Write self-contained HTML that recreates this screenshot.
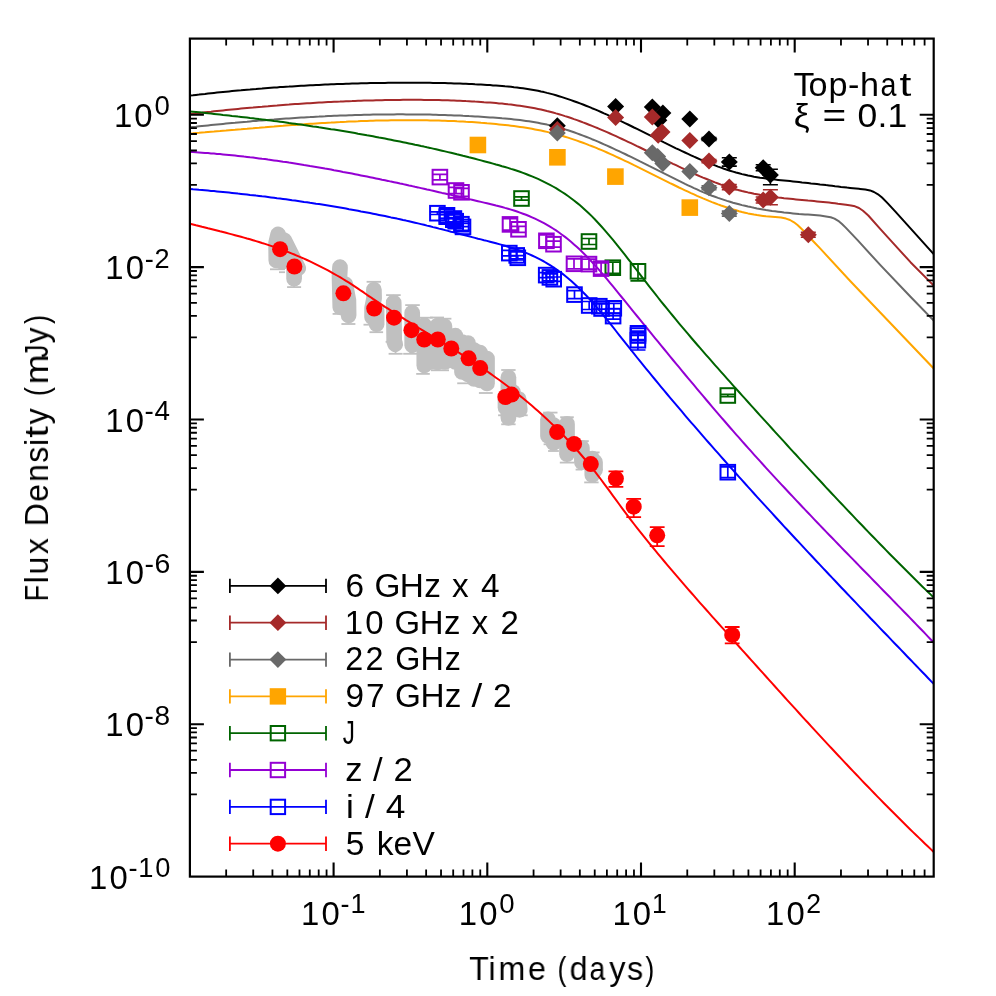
<!DOCTYPE html>
<html><head><meta charset="utf-8"><title>Light curves</title>
<style>html,body{margin:0;padding:0;background:#fff;}svg{display:block;}</style></head>
<body>
<svg width="996" height="996" viewBox="0 0 996 996" style="will-change:transform">
<rect width="996" height="996" fill="#fff"/>
<defs><clipPath id="ax"><rect x="189.9" y="38.6" width="743.8000000000001" height="838.0"/></clipPath></defs>
<g clip-path="url(#ax)">
<g stroke="#c0c0c0" fill="none" stroke-linecap="round" stroke-linejoin="round" stroke-width="15.7">
<path d="M278.1,234.4 L276.1,243.1 L276.3,260.5"/>
<path d="M284.1,240.1 L291.1,254.1 L298.2,268.2"/>
<path d="M294.1,262.0 L294.1,278.7"/>
<path d="M280.0,240.0 L282.0,262.0"/>
<path d="M340.0,267.2 L339.5,276.0 L340.3,307.3"/>
<path d="M345.3,284.3 L348.4,300.3 L348.6,315.4"/>
<path d="M373.9,289.6 L374.1,298.1 L372.1,308.1 L372.1,317.2"/>
<path d="M376.6,310.0 L376.6,324.2"/>
<path d="M393.7,302.6 L394.2,341.3 L395.2,344.3"/>
<path d="M412.2,312.7 L412.2,345.3"/>
<path d="M424.3,325.2 L424.3,365.4"/>
<path d="M431.0,330.0 L431.0,362.0"/>
<path d="M437.5,325.5 L437.5,362.5"/>
<path d="M444.4,326.2 L445.0,362.0"/>
<path d="M455.4,335.7 L455.4,362.0"/>
<path d="M462.0,342.0 L462.0,372.0"/>
<path d="M468.0,343.0 L468.0,374.5"/>
<path d="M474.0,350.0 L474.0,379.0"/>
<path d="M480.0,352.6 L480.0,380.5"/>
<path d="M487.0,358.6 L487.0,383.5"/>
<path d="M508.4,377.3 L508.4,418.0"/>
<path d="M518.6,399.0 L519.8,409.8"/>
<path d="M505.5,400.0 L505.5,407.4"/>
<path d="M513.0,392.0 L513.0,410.0"/>
<path d="M548.0,419.4 L548.0,436.0"/>
<path d="M553.5,425.0 L553.5,443.0"/>
<path d="M567.0,423.9 L567.0,454.2"/>
<path d="M581.9,447.9 L581.9,462.3"/>
<path d="M592.3,458.7 L592.3,475.0"/>
<path d="M595.0,462.0 L595.0,470.0"/>
</g>
<g stroke="#c0c0c0" fill="none" stroke-width="1.8">
<path d="M270.0,269.3 H285.0"/>
<path d="M279.0,272.2 H285.0"/>
<path d="M287.1,287.1 H301.1"/>
<path d="M332.6,313.9 H340.2"/>
<path d="M341.4,324.0 H355.4"/>
<path d="M366.6,281.8 H381.0"/>
<path d="M363.5,324.7 H370.1"/>
<path d="M369.5,332.2 H383.1"/>
<path d="M386.1,295.1 H400.7"/>
<path d="M388.6,353.8 H402.6"/>
<path d="M385.6,341.8 H388.2"/>
<path d="M405.2,305.1 H419.8"/>
<path d="M403.2,353.8 H417.2"/>
<path d="M419.2,317.7 H432.8"/>
<path d="M416.2,373.9 H429.8"/>
<path d="M430.0,317.5 H444.0"/>
<path d="M437.4,318.7 H451.4"/>
<path d="M431.0,370.3 H449.0"/>
<path d="M457.2,383.3 H468.0"/>
<path d="M478.9,393.0 H492.7"/>
<path d="M501.2,370.0 H515.6"/>
<path d="M498.1,415.3 H527.7"/>
<path d="M501.2,424.3 H515.6"/>
<path d="M543.1,412.6 H557.5"/>
<path d="M543.6,444.3 H547.2"/>
<path d="M548.1,451.0 H558.9"/>
<path d="M560.2,417.2 H573.8"/>
<path d="M559.8,462.6 H574.2"/>
<path d="M580.6,441.1 H588.8"/>
<path d="M575.6,469.6 H582.4"/>
<path d="M587.8,452.4 H599.6"/>
<path d="M584.2,482.4 H598.6"/>
<path d="M598.7,469.6 H602.7"/>
<path d="M395.6,344.0 V353.8"/>
<path d="M567.0,454.0 V462.6"/>
<path d="M591.4,475.0 V482.4"/>
<path d="M508.4,418.0 V424.3"/>
<path d="M348.4,315.0 V324.0"/>
<path d="M376.3,324.0 V332.2"/>
<path d="M294.1,278.0 V287.1"/>
<path d="M423.0,365.0 V373.9"/>
<path d="M410.2,345.0 V353.8"/>
</g>
<path d="M190.0,95.6 L193.0,95.3 L196.0,94.9 L199.0,94.6 L202.0,94.2 L205.0,93.9 L208.0,93.5 L211.0,93.2 L214.0,92.9 L217.0,92.6 L220.0,92.3 L223.0,92.0 L226.0,91.7 L229.0,91.4 L232.0,91.1 L235.0,90.8 L238.0,90.5 L241.0,90.3 L244.0,90.0 L247.0,89.7 L250.0,89.5 L253.0,89.2 L256.0,89.0 L259.0,88.7 L262.0,88.5 L265.0,88.2 L268.0,88.0 L271.0,87.8 L274.0,87.6 L277.0,87.4 L280.0,87.1 L283.0,86.9 L286.0,86.7 L289.0,86.6 L292.0,86.4 L295.0,86.2 L298.0,86.0 L301.0,85.8 L304.0,85.7 L307.0,85.5 L310.0,85.3 L313.0,85.2 L316.0,85.0 L319.0,84.9 L322.0,84.7 L325.0,84.6 L328.0,84.5 L331.0,84.3 L334.0,84.2 L337.0,84.1 L340.0,84.0 L343.0,83.9 L346.0,83.8 L349.0,83.7 L352.0,83.6 L355.0,83.5 L358.0,83.4 L361.0,83.3 L364.0,83.3 L367.0,83.2 L370.0,83.1 L373.0,83.1 L376.0,83.0 L379.0,82.9 L382.0,82.9 L385.0,82.9 L388.0,82.8 L391.0,82.8 L394.0,82.7 L397.0,82.7 L400.0,82.7 L403.0,82.7 L406.0,82.7 L409.0,82.7 L412.0,82.7 L415.0,82.7 L418.0,82.7 L421.0,82.7 L424.0,82.8 L427.0,82.8 L430.0,82.8 L433.0,82.9 L436.0,82.9 L439.0,83.0 L442.0,83.1 L445.0,83.1 L448.0,83.2 L451.0,83.3 L454.0,83.4 L457.0,83.5 L460.0,83.6 L463.0,83.7 L466.0,83.8 L469.0,84.0 L472.0,84.1 L475.0,84.3 L478.0,84.4 L481.0,84.6 L484.0,84.8 L487.0,85.0 L490.0,85.1 L493.0,85.4 L496.0,85.6 L499.0,85.8 L502.0,86.0 L505.0,86.3 L508.0,86.5 L511.0,86.8 L514.0,87.2 L517.0,87.5 L520.0,87.9 L523.0,88.3 L526.0,88.7 L529.0,89.2 L532.0,89.7 L535.0,90.2 L538.0,90.8 L541.0,91.5 L544.0,92.1 L547.0,92.9 L550.0,93.6 L553.0,94.4 L556.0,95.3 L559.0,96.2 L562.0,97.1 L565.0,98.1 L568.0,99.1 L571.0,100.1 L574.0,101.2 L577.0,102.3 L580.0,103.4 L583.0,104.5 L586.0,105.7 L589.0,106.9 L592.0,108.2 L595.0,109.4 L598.0,110.7 L601.0,112.0 L604.0,113.4 L607.0,114.7 L610.0,116.1 L613.0,117.4 L616.0,118.8 L619.0,120.2 L622.0,121.7 L625.0,123.1 L628.0,124.5 L631.0,126.0 L634.0,127.5 L637.0,128.9 L640.0,130.4 L643.0,131.9 L646.0,133.4 L649.0,134.9 L652.0,136.4 L655.0,137.9 L658.0,139.4 L661.0,140.9 L664.0,142.4 L667.0,143.8 L670.0,145.3 L673.0,146.8 L676.0,148.3 L679.0,149.7 L682.0,151.1 L685.0,152.5 L688.0,153.9 L691.0,155.3 L694.0,156.7 L697.0,158.0 L700.0,159.3 L703.0,160.6 L706.0,161.9 L709.0,163.1 L712.0,164.3 L715.0,165.4 L718.0,166.6 L721.0,167.6 L724.0,168.7 L727.0,169.7 L730.0,170.7 L733.0,171.6 L736.0,172.5 L739.0,173.3 L742.0,174.1 L745.0,174.8 L748.0,175.5 L751.0,176.1 L754.0,176.7 L757.0,177.2 L760.0,177.7 L763.0,178.1 L766.0,178.5 L769.0,178.9 L772.0,179.3 L775.0,179.6 L778.0,179.9 L781.0,180.2 L784.0,180.5 L787.0,180.8 L790.0,181.1 L793.0,181.4 L796.0,181.7 L799.0,182.0 L802.0,182.4 L805.0,182.7 L808.0,183.0 L811.0,183.4 L814.0,183.7 L817.0,184.0 L820.0,184.4 L823.0,184.7 L826.0,185.1 L829.0,185.4 L832.0,185.8 L835.0,186.2 L838.0,186.5 L841.0,186.9 L844.0,187.2 L847.0,187.6 L850.0,187.9 L853.0,188.2 L856.0,188.5 L859.0,188.8 L860.0,188.9 L865.3,189.5 L870.0,190.4 L874.0,192.0 L878.0,194.3 L882.0,197.5 L888.0,203.6 L895.4,211.7 L910.5,228.3 L933.7,254.2" fill="none" stroke="#000000" stroke-width="2.0" stroke-linejoin="round"/>
<path d="M190.0,114.1 L193.0,113.7 L196.0,113.4 L199.0,113.0 L202.0,112.7 L205.0,112.3 L208.0,112.0 L211.0,111.7 L214.0,111.3 L217.0,111.0 L220.0,110.7 L223.0,110.4 L226.0,110.1 L229.0,109.8 L232.0,109.5 L235.0,109.2 L238.0,108.9 L241.0,108.6 L244.0,108.3 L247.0,108.0 L250.0,107.7 L253.0,107.5 L256.0,107.2 L259.0,106.9 L262.0,106.7 L265.0,106.4 L268.0,106.2 L271.0,105.9 L274.0,105.7 L277.0,105.5 L280.0,105.2 L283.0,105.0 L286.0,104.8 L289.0,104.6 L292.0,104.3 L295.0,104.1 L298.0,103.9 L301.0,103.7 L304.0,103.5 L307.0,103.3 L310.0,103.2 L313.0,103.0 L316.0,102.8 L319.0,102.6 L322.0,102.5 L325.0,102.3 L328.0,102.1 L331.0,102.0 L334.0,101.8 L337.0,101.7 L340.0,101.6 L343.0,101.4 L346.0,101.3 L349.0,101.2 L352.0,101.1 L355.0,100.9 L358.0,100.8 L361.0,100.7 L364.0,100.6 L367.0,100.5 L370.0,100.5 L373.0,100.4 L376.0,100.3 L379.0,100.2 L382.0,100.2 L385.0,100.1 L388.0,100.0 L391.0,100.0 L394.0,99.9 L397.0,99.9 L400.0,99.9 L403.0,99.8 L406.0,99.8 L409.0,99.8 L412.0,99.8 L415.0,99.8 L418.0,99.8 L421.0,99.8 L424.0,99.9 L427.0,99.9 L430.0,99.9 L433.0,100.0 L436.0,100.0 L439.0,100.1 L442.0,100.2 L445.0,100.2 L448.0,100.3 L451.0,100.4 L454.0,100.5 L457.0,100.7 L460.0,100.8 L463.0,100.9 L466.0,101.1 L469.0,101.2 L472.0,101.4 L475.0,101.6 L478.0,101.7 L481.0,101.9 L484.0,102.2 L487.0,102.4 L490.0,102.6 L493.0,102.8 L496.0,103.1 L499.0,103.4 L502.0,103.6 L505.0,103.9 L508.0,104.3 L511.0,104.6 L514.0,105.0 L517.0,105.4 L520.0,105.8 L523.0,106.2 L526.0,106.7 L529.0,107.2 L532.0,107.7 L535.0,108.3 L538.0,108.9 L541.0,109.5 L544.0,110.2 L547.0,111.0 L550.0,111.7 L553.0,112.5 L556.0,113.4 L559.0,114.2 L562.0,115.1 L565.0,116.1 L568.0,117.0 L571.0,118.0 L574.0,119.1 L577.0,120.1 L580.0,121.2 L583.0,122.4 L586.0,123.5 L589.0,124.7 L592.0,125.9 L595.0,127.1 L598.0,128.3 L601.0,129.6 L604.0,130.9 L607.0,132.2 L610.0,133.5 L613.0,134.8 L616.0,136.2 L619.0,137.6 L622.0,139.0 L625.0,140.4 L628.0,141.8 L631.0,143.2 L634.0,144.6 L637.0,146.1 L640.0,147.5 L643.0,149.0 L646.0,150.5 L649.0,152.0 L652.0,153.4 L655.0,154.9 L658.0,156.4 L661.0,157.9 L664.0,159.4 L667.0,160.9 L670.0,162.3 L673.0,163.8 L676.0,165.2 L679.0,166.7 L682.0,168.1 L685.0,169.5 L688.0,170.9 L691.0,172.3 L694.0,173.6 L697.0,175.0 L700.0,176.3 L703.0,177.6 L706.0,178.8 L709.0,180.0 L712.0,181.2 L715.0,182.4 L718.0,183.5 L721.0,184.6 L724.0,185.6 L727.0,186.6 L730.0,187.6 L733.0,188.5 L736.0,189.4 L739.0,190.2 L742.0,191.0 L745.0,191.7 L748.0,192.4 L751.0,193.0 L754.0,193.7 L757.0,194.2 L760.0,194.8 L763.0,195.3 L766.0,195.8 L769.0,196.2 L772.0,196.7 L775.0,197.1 L778.0,197.5 L781.0,197.8 L784.0,198.2 L787.0,198.5 L790.0,198.8 L793.0,199.1 L796.0,199.4 L799.0,199.7 L802.0,200.0 L805.0,200.3 L808.0,200.6 L811.0,200.8 L814.0,201.1 L817.0,201.4 L820.0,201.7 L823.0,202.0 L826.0,202.3 L829.0,202.6 L832.0,202.9 L835.0,203.3 L838.0,203.7 L840.0,203.9 L846.0,204.7 L851.0,205.4 L855.0,206.3 L859.0,208.0 L863.0,210.8 L868.3,215.5 L880.4,229.1 L895.4,245.6 L910.5,262.2 L933.7,285.5" fill="none" stroke="#a52a2a" stroke-width="2.0" stroke-linejoin="round"/>
<path d="M190.0,127.3 L193.0,127.0 L196.0,126.7 L199.0,126.3 L202.0,126.0 L205.0,125.7 L208.0,125.4 L211.0,125.1 L214.0,124.8 L217.0,124.5 L220.0,124.2 L223.0,123.9 L226.0,123.6 L229.0,123.3 L232.0,123.0 L235.0,122.8 L238.0,122.5 L241.0,122.2 L244.0,121.9 L247.0,121.7 L250.0,121.4 L253.0,121.1 L256.0,120.9 L259.0,120.6 L262.0,120.4 L265.0,120.2 L268.0,119.9 L271.0,119.7 L274.0,119.5 L277.0,119.2 L280.0,119.0 L283.0,118.8 L286.0,118.6 L289.0,118.4 L292.0,118.2 L295.0,118.0 L298.0,117.8 L301.0,117.6 L304.0,117.4 L307.0,117.2 L310.0,117.1 L313.0,116.9 L316.0,116.7 L319.0,116.6 L322.0,116.4 L325.0,116.3 L328.0,116.1 L331.0,116.0 L334.0,115.8 L337.0,115.7 L340.0,115.6 L343.0,115.5 L346.0,115.4 L349.0,115.3 L352.0,115.2 L355.0,115.1 L358.0,115.0 L361.0,114.9 L364.0,114.8 L367.0,114.7 L370.0,114.7 L373.0,114.6 L376.0,114.6 L379.0,114.5 L382.0,114.5 L385.0,114.4 L388.0,114.4 L391.0,114.4 L394.0,114.4 L397.0,114.3 L400.0,114.3 L403.0,114.3 L406.0,114.4 L409.0,114.4 L412.0,114.4 L415.0,114.4 L418.0,114.4 L421.0,114.5 L424.0,114.5 L427.0,114.6 L430.0,114.6 L433.0,114.7 L436.0,114.8 L439.0,114.9 L442.0,115.0 L445.0,115.1 L448.0,115.2 L451.0,115.3 L454.0,115.4 L457.0,115.5 L460.0,115.6 L463.0,115.8 L466.0,115.9 L469.0,116.1 L472.0,116.2 L475.0,116.4 L478.0,116.6 L481.0,116.8 L484.0,117.0 L487.0,117.2 L490.0,117.4 L493.0,117.6 L496.0,117.8 L499.0,118.0 L502.0,118.3 L505.0,118.5 L508.0,118.8 L511.0,119.1 L514.0,119.4 L517.0,119.7 L520.0,120.1 L523.0,120.5 L526.0,120.9 L529.0,121.3 L532.0,121.8 L535.0,122.3 L538.0,122.8 L541.0,123.4 L544.0,124.0 L547.0,124.6 L550.0,125.3 L553.0,126.0 L556.0,126.8 L559.0,127.6 L562.0,128.5 L565.0,129.4 L568.0,130.3 L571.0,131.3 L574.0,132.3 L577.0,133.4 L580.0,134.5 L583.0,135.6 L586.0,136.7 L589.0,137.9 L592.0,139.2 L595.0,140.4 L598.0,141.7 L601.0,143.0 L604.0,144.3 L607.0,145.6 L610.0,147.0 L613.0,148.4 L616.0,149.8 L619.0,151.2 L622.0,152.6 L625.0,154.0 L628.0,155.5 L631.0,156.9 L634.0,158.4 L637.0,159.9 L640.0,161.4 L643.0,162.8 L646.0,164.3 L649.0,165.9 L652.0,167.4 L655.0,168.9 L658.0,170.4 L661.0,171.9 L664.0,173.4 L667.0,174.9 L670.0,176.4 L673.0,177.9 L676.0,179.4 L679.0,180.9 L682.0,182.4 L685.0,183.9 L688.0,185.3 L691.0,186.7 L694.0,188.1 L697.0,189.4 L700.0,190.8 L703.0,192.1 L706.0,193.3 L709.0,194.5 L712.0,195.7 L715.0,196.8 L718.0,197.9 L721.0,198.9 L724.0,199.9 L727.0,200.9 L730.0,201.8 L733.0,202.7 L736.0,203.5 L739.0,204.3 L742.0,205.1 L745.0,205.8 L748.0,206.5 L751.0,207.1 L754.0,207.8 L757.0,208.4 L760.0,208.9 L763.0,209.5 L766.0,210.0 L769.0,210.4 L772.0,210.9 L775.0,211.3 L778.0,211.7 L781.0,212.1 L784.0,212.5 L787.0,212.8 L790.0,213.1 L793.0,213.4 L796.0,213.7 L799.0,214.0 L802.0,214.2 L805.0,214.4 L808.0,214.6 L811.0,214.8 L814.0,215.0 L817.0,215.2 L820.0,215.4 L820.1,215.4 L826.0,216.4 L830.7,217.2 L834.5,218.6 L838.2,220.8 L842.0,224.0 L845.7,227.6 L857.8,240.4 L880.4,265.2 L910.5,296.8 L933.7,320.5" fill="none" stroke="#696969" stroke-width="2.0" stroke-linejoin="round"/>
<path d="M190.0,133.5 L193.0,133.3 L196.0,133.0 L199.0,132.8 L202.0,132.5 L205.0,132.3 L208.0,132.0 L211.0,131.7 L214.0,131.5 L217.0,131.2 L220.0,131.0 L223.0,130.7 L226.0,130.5 L229.0,130.2 L232.0,129.9 L235.0,129.7 L238.0,129.4 L241.0,129.2 L244.0,128.9 L247.0,128.7 L250.0,128.4 L253.0,128.2 L256.0,127.9 L259.0,127.7 L262.0,127.4 L265.0,127.2 L268.0,126.9 L271.0,126.7 L274.0,126.5 L277.0,126.2 L280.0,126.0 L283.0,125.8 L286.0,125.5 L289.0,125.3 L292.0,125.1 L295.0,124.9 L298.0,124.7 L301.0,124.5 L304.0,124.3 L307.0,124.0 L310.0,123.8 L313.0,123.7 L316.0,123.5 L319.0,123.3 L322.0,123.1 L325.0,122.9 L328.0,122.7 L331.0,122.6 L334.0,122.4 L337.0,122.2 L340.0,122.1 L343.0,121.9 L346.0,121.8 L349.0,121.6 L352.0,121.5 L355.0,121.4 L358.0,121.3 L361.0,121.1 L364.0,121.0 L367.0,120.9 L370.0,120.8 L373.0,120.7 L376.0,120.6 L379.0,120.6 L382.0,120.5 L385.0,120.4 L388.0,120.4 L391.0,120.3 L394.0,120.3 L397.0,120.2 L400.0,120.2 L403.0,120.2 L406.0,120.2 L409.0,120.2 L412.0,120.2 L415.0,120.2 L418.0,120.2 L421.0,120.2 L424.0,120.3 L427.0,120.3 L430.0,120.4 L433.0,120.4 L436.0,120.5 L439.0,120.6 L442.0,120.7 L445.0,120.8 L448.0,120.9 L451.0,121.0 L454.0,121.1 L457.0,121.3 L460.0,121.4 L463.0,121.6 L466.0,121.8 L469.0,121.9 L472.0,122.1 L475.0,122.3 L478.0,122.5 L481.0,122.8 L484.0,123.0 L487.0,123.3 L490.0,123.5 L493.0,123.8 L496.0,124.1 L499.0,124.4 L502.0,124.7 L505.0,125.0 L508.0,125.3 L511.0,125.7 L514.0,126.1 L517.0,126.5 L520.0,126.9 L523.0,127.3 L526.0,127.8 L529.0,128.3 L532.0,128.8 L535.0,129.4 L538.0,130.0 L541.0,130.6 L544.0,131.2 L547.0,131.9 L550.0,132.6 L553.0,133.3 L556.0,134.1 L559.0,135.0 L562.0,135.8 L565.0,136.7 L568.0,137.6 L571.0,138.6 L574.0,139.6 L577.0,140.6 L580.0,141.7 L583.0,142.8 L586.0,143.9 L589.0,145.1 L592.0,146.2 L595.0,147.4 L598.0,148.7 L601.0,149.9 L604.0,151.2 L607.0,152.5 L610.0,153.8 L613.0,155.2 L616.0,156.6 L619.0,158.0 L622.0,159.4 L625.0,160.8 L628.0,162.2 L631.0,163.7 L634.0,165.2 L637.0,166.6 L640.0,168.1 L643.0,169.6 L646.0,171.1 L649.0,172.6 L652.0,174.1 L655.0,175.6 L658.0,177.1 L661.0,178.6 L664.0,180.1 L667.0,181.6 L670.0,183.1 L673.0,184.5 L676.0,186.0 L679.0,187.5 L682.0,188.9 L685.0,190.3 L688.0,191.7 L691.0,193.1 L694.0,194.4 L697.0,195.8 L700.0,197.1 L703.0,198.4 L706.0,199.6 L709.0,200.9 L712.0,202.1 L715.0,203.2 L718.0,204.4 L721.0,205.5 L724.0,206.5 L727.0,207.5 L730.0,208.5 L733.0,209.4 L736.0,210.3 L739.0,211.2 L742.0,212.0 L745.0,212.7 L748.0,213.4 L751.0,214.0 L754.0,214.6 L757.0,215.1 L760.0,215.5 L763.0,215.9 L766.0,216.3 L769.0,216.5 L772.0,216.7 L775.0,216.9 L775.3,216.9 L781.0,217.6 L786.0,218.6 L790.0,220.0 L794.0,222.3 L797.5,225.0 L800.4,227.8 L805.0,232.3 L813.0,241.0 L820.1,248.4 L850.2,281.0 L868.3,300.0 L933.7,368.5" fill="none" stroke="#ffa500" stroke-width="2.0" stroke-linejoin="round"/>
<path d="M190.0,111.4 L193.0,111.7 L196.0,112.0 L199.0,112.3 L202.0,112.6 L205.0,112.9 L208.0,113.3 L211.0,113.6 L214.0,113.9 L217.0,114.2 L220.0,114.5 L223.0,114.9 L226.0,115.2 L229.0,115.5 L232.0,115.9 L235.0,116.2 L238.0,116.6 L241.0,116.9 L244.0,117.2 L247.0,117.6 L250.0,118.0 L253.0,118.3 L256.0,118.7 L259.0,119.1 L262.0,119.4 L265.0,119.8 L268.0,120.2 L271.0,120.6 L274.0,121.0 L277.0,121.3 L280.0,121.7 L283.0,122.1 L286.0,122.5 L289.0,123.0 L292.0,123.4 L295.0,123.8 L298.0,124.2 L301.0,124.6 L304.0,125.1 L307.0,125.5 L310.0,125.9 L313.0,126.4 L316.0,126.8 L319.0,127.3 L322.0,127.7 L325.0,128.2 L328.0,128.7 L331.0,129.2 L334.0,129.6 L337.0,130.1 L340.0,130.6 L343.0,131.1 L346.0,131.6 L349.0,132.1 L352.0,132.6 L355.0,133.1 L358.0,133.7 L361.0,134.2 L364.0,134.7 L367.0,135.3 L370.0,135.8 L373.0,136.3 L376.0,136.9 L379.0,137.5 L382.0,138.0 L385.0,138.6 L388.0,139.2 L391.0,139.8 L394.0,140.4 L397.0,141.0 L400.0,141.6 L403.0,142.2 L406.0,142.8 L409.0,143.4 L412.0,144.0 L415.0,144.7 L418.0,145.3 L421.0,146.0 L424.0,146.6 L427.0,147.3 L430.0,147.9 L433.0,148.6 L436.0,149.3 L439.0,150.0 L442.0,150.7 L445.0,151.4 L448.0,152.1 L451.0,152.8 L454.0,153.5 L457.0,154.3 L460.0,155.0 L463.0,155.8 L466.0,156.5 L469.0,157.3 L472.0,158.0 L475.0,158.8 L478.0,159.6 L481.0,160.4 L484.0,161.2 L487.0,162.0 L490.0,162.8 L493.0,163.6 L496.0,164.5 L499.0,165.3 L502.0,166.2 L505.0,167.0 L508.0,167.9 L511.0,168.9 L514.0,169.8 L517.0,170.8 L520.0,171.8 L523.0,172.9 L526.0,174.0 L529.0,175.2 L532.0,176.4 L535.0,177.6 L538.0,178.9 L541.0,180.3 L544.0,181.8 L547.0,183.3 L550.0,184.8 L553.0,186.5 L556.0,188.2 L559.0,190.1 L562.0,192.0 L565.0,193.9 L568.0,196.0 L571.0,198.2 L574.0,200.5 L577.0,202.9 L580.0,205.3 L583.0,207.9 L586.0,210.7 L589.0,213.5 L592.0,216.4 L595.0,219.5 L598.0,222.7 L601.0,226.0 L604.0,229.3 L607.0,232.8 L610.0,236.3 L613.0,239.9 L616.0,243.6 L619.0,247.3 L622.0,251.1 L625.0,254.9 L628.0,258.8 L631.0,262.7 L634.0,266.6 L637.0,270.5 L640.0,274.4 L643.0,278.3 L646.0,282.2 L649.0,286.1 L652.0,289.9 L655.0,293.7 L658.0,297.5 L661.0,301.3 L664.0,305.0 L667.0,308.7 L670.0,312.4 L673.0,316.0 L676.0,319.7 L679.0,323.3 L682.0,326.8 L685.0,330.4 L688.0,333.9 L691.0,337.5 L694.0,341.0 L697.0,344.5 L700.0,347.9 L703.0,351.4 L706.0,354.8 L709.0,358.2 L712.0,361.7 L715.0,365.1 L718.0,368.4 L721.0,371.8 L724.0,375.2 L727.0,378.6 L730.0,381.9 L733.0,385.3 L736.0,388.6 L739.0,392.0 L742.0,395.3 L745.0,398.6 L748.0,402.0 L751.0,405.3 L754.0,408.6 L757.0,412.0 L760.0,415.3 L763.0,418.6 L766.0,421.9 L769.0,425.2 L772.0,428.5 L775.0,431.8 L778.0,435.1 L781.0,438.4 L784.0,441.7 L787.0,445.0 L790.0,448.3 L793.0,451.6 L796.0,454.8 L799.0,458.1 L802.0,461.4 L805.0,464.6 L808.0,467.9 L811.0,471.1 L814.0,474.4 L817.0,477.6 L820.0,480.8 L823.0,484.0 L826.0,487.3 L829.0,490.5 L832.0,493.7 L835.0,496.9 L838.0,500.1 L841.0,503.2 L844.0,506.4 L847.0,509.6 L850.0,512.8 L853.0,515.9 L856.0,519.1 L859.0,522.2 L862.0,525.3 L865.0,528.5 L868.0,531.6 L871.0,534.7 L874.0,537.8 L877.0,540.9 L880.0,544.0 L883.0,547.0 L886.0,550.1 L889.0,553.2 L892.0,556.2 L895.0,559.2 L898.0,562.3 L901.0,565.3 L904.0,568.3 L907.0,571.3 L910.0,574.3 L913.0,577.3 L916.0,580.2 L919.0,583.2 L922.0,586.2 L925.0,589.1 L928.0,592.0 L931.0,594.9 L933.7,597.6" fill="none" stroke="#006400" stroke-width="2.0" stroke-linejoin="round"/>
<path d="M190.0,151.9 L193.0,152.1 L196.0,152.3 L199.0,152.5 L202.0,152.7 L205.0,152.9 L208.0,153.1 L211.0,153.4 L214.0,153.6 L217.0,153.9 L220.0,154.1 L223.0,154.4 L226.0,154.7 L229.0,155.0 L232.0,155.3 L235.0,155.6 L238.0,155.9 L241.0,156.2 L244.0,156.6 L247.0,156.9 L250.0,157.3 L253.0,157.6 L256.0,158.0 L259.0,158.4 L262.0,158.8 L265.0,159.1 L268.0,159.6 L271.0,160.0 L274.0,160.4 L277.0,160.8 L280.0,161.2 L283.0,161.7 L286.0,162.1 L289.0,162.6 L292.0,163.0 L295.0,163.5 L298.0,164.0 L301.0,164.5 L304.0,165.0 L307.0,165.4 L310.0,166.0 L313.0,166.5 L316.0,167.0 L319.0,167.5 L322.0,168.0 L325.0,168.6 L328.0,169.1 L331.0,169.6 L334.0,170.2 L337.0,170.7 L340.0,171.3 L343.0,171.9 L346.0,172.4 L349.0,173.0 L352.0,173.6 L355.0,174.2 L358.0,174.8 L361.0,175.4 L364.0,176.0 L367.0,176.6 L370.0,177.2 L373.0,177.8 L376.0,178.4 L379.0,179.0 L382.0,179.7 L385.0,180.3 L388.0,180.9 L391.0,181.6 L394.0,182.2 L397.0,182.8 L400.0,183.5 L403.0,184.1 L406.0,184.8 L409.0,185.5 L412.0,186.1 L415.0,186.8 L418.0,187.4 L421.0,188.1 L424.0,188.8 L427.0,189.5 L430.0,190.1 L433.0,190.8 L436.0,191.5 L439.0,192.2 L442.0,192.9 L445.0,193.5 L448.0,194.2 L451.0,194.9 L454.0,195.6 L457.0,196.3 L460.0,197.0 L463.0,197.7 L466.0,198.4 L469.0,199.1 L472.0,199.8 L475.0,200.5 L478.0,201.2 L481.0,201.9 L484.0,202.6 L487.0,203.3 L490.0,204.0 L493.0,204.7 L496.0,205.5 L499.0,206.2 L502.0,207.0 L505.0,207.9 L508.0,208.7 L511.0,209.6 L514.0,210.5 L517.0,211.5 L520.0,212.6 L523.0,213.7 L526.0,214.8 L529.0,216.0 L532.0,217.3 L535.0,218.7 L538.0,220.1 L541.0,221.6 L544.0,223.2 L547.0,224.9 L550.0,226.6 L553.0,228.5 L556.0,230.4 L559.0,232.5 L562.0,234.7 L565.0,236.9 L568.0,239.3 L571.0,241.8 L574.0,244.4 L577.0,247.0 L580.0,249.8 L583.0,252.7 L586.0,255.7 L589.0,258.8 L592.0,262.0 L595.0,265.3 L598.0,268.6 L601.0,272.1 L604.0,275.6 L607.0,279.2 L610.0,282.8 L613.0,286.4 L616.0,290.1 L619.0,293.8 L622.0,297.5 L625.0,301.2 L628.0,304.9 L631.0,308.6 L634.0,312.3 L637.0,316.0 L640.0,319.7 L643.0,323.3 L646.0,327.0 L649.0,330.7 L652.0,334.4 L655.0,338.1 L658.0,341.7 L661.0,345.4 L664.0,349.0 L667.0,352.7 L670.0,356.3 L673.0,360.0 L676.0,363.6 L679.0,367.2 L682.0,370.9 L685.0,374.5 L688.0,378.1 L691.0,381.7 L694.0,385.2 L697.0,388.8 L700.0,392.4 L703.0,395.9 L706.0,399.5 L709.0,403.0 L712.0,406.6 L715.0,410.1 L718.0,413.6 L721.0,417.1 L724.0,420.5 L727.0,424.0 L730.0,427.5 L733.0,430.9 L736.0,434.3 L739.0,437.7 L742.0,441.1 L745.0,444.5 L748.0,447.9 L751.0,451.2 L754.0,454.6 L757.0,457.9 L760.0,461.2 L763.0,464.5 L766.0,467.8 L769.0,471.1 L772.0,474.4 L775.0,477.6 L778.0,480.9 L781.0,484.1 L784.0,487.3 L787.0,490.5 L790.0,493.7 L793.0,496.9 L796.0,500.1 L799.0,503.3 L802.0,506.5 L805.0,509.6 L808.0,512.8 L811.0,515.9 L814.0,519.1 L817.0,522.2 L820.0,525.4 L823.0,528.5 L826.0,531.6 L829.0,534.7 L832.0,537.8 L835.0,540.9 L838.0,544.0 L841.0,547.1 L844.0,550.2 L847.0,553.3 L850.0,556.4 L853.0,559.4 L856.0,562.5 L859.0,565.6 L862.0,568.7 L865.0,571.7 L868.0,574.8 L871.0,577.9 L874.0,581.0 L877.0,584.0 L880.0,587.1 L883.0,590.2 L886.0,593.3 L889.0,596.3 L892.0,599.4 L895.0,602.5 L898.0,605.6 L901.0,608.6 L904.0,611.7 L907.0,614.8 L910.0,617.9 L913.0,621.0 L916.0,624.1 L919.0,627.2 L922.0,630.3 L925.0,633.4 L928.0,636.6 L931.0,639.7 L933.7,642.5" fill="none" stroke="#9400d3" stroke-width="2.0" stroke-linejoin="round"/>
<path d="M190.0,189.0 L193.0,189.3 L196.0,189.5 L199.0,189.8 L202.0,190.0 L205.0,190.3 L208.0,190.6 L211.0,190.9 L214.0,191.1 L217.0,191.4 L220.0,191.7 L223.0,192.0 L226.0,192.3 L229.0,192.6 L232.0,192.9 L235.0,193.2 L238.0,193.6 L241.0,193.9 L244.0,194.2 L247.0,194.5 L250.0,194.9 L253.0,195.2 L256.0,195.6 L259.0,195.9 L262.0,196.3 L265.0,196.6 L268.0,197.0 L271.0,197.4 L274.0,197.8 L277.0,198.2 L280.0,198.5 L283.0,198.9 L286.0,199.3 L289.0,199.7 L292.0,200.2 L295.0,200.6 L298.0,201.0 L301.0,201.4 L304.0,201.9 L307.0,202.3 L310.0,202.8 L313.0,203.2 L316.0,203.7 L319.0,204.1 L322.0,204.6 L325.0,205.1 L328.0,205.6 L331.0,206.1 L334.0,206.6 L337.0,207.1 L340.0,207.6 L343.0,208.1 L346.0,208.6 L349.0,209.2 L352.0,209.7 L355.0,210.2 L358.0,210.8 L361.0,211.4 L364.0,211.9 L367.0,212.5 L370.0,213.1 L373.0,213.7 L376.0,214.3 L379.0,214.9 L382.0,215.5 L385.0,216.1 L388.0,216.7 L391.0,217.4 L394.0,218.0 L397.0,218.6 L400.0,219.3 L403.0,220.0 L406.0,220.6 L409.0,221.3 L412.0,222.0 L415.0,222.7 L418.0,223.4 L421.0,224.1 L424.0,224.8 L427.0,225.6 L430.0,226.3 L433.0,227.1 L436.0,227.8 L439.0,228.6 L442.0,229.3 L445.0,230.1 L448.0,230.9 L451.0,231.7 L454.0,232.4 L457.0,233.2 L460.0,234.0 L463.0,234.8 L466.0,235.6 L469.0,236.3 L472.0,237.1 L475.0,237.9 L478.0,238.7 L481.0,239.4 L484.0,240.2 L487.0,240.9 L490.0,241.7 L493.0,242.5 L496.0,243.3 L499.0,244.1 L502.0,244.9 L505.0,245.8 L508.0,246.7 L511.0,247.6 L514.0,248.6 L517.0,249.6 L520.0,250.6 L523.0,251.8 L526.0,252.9 L529.0,254.2 L532.0,255.5 L535.0,256.9 L538.0,258.4 L541.0,259.9 L544.0,261.5 L547.0,263.3 L550.0,265.1 L553.0,267.0 L556.0,269.0 L559.0,271.2 L562.0,273.4 L565.0,275.8 L568.0,278.3 L571.0,280.8 L574.0,283.5 L577.0,286.3 L580.0,289.2 L583.0,292.2 L586.0,295.3 L589.0,298.5 L592.0,301.9 L595.0,305.3 L598.0,308.8 L601.0,312.4 L604.0,316.0 L607.0,319.7 L610.0,323.4 L613.0,327.2 L616.0,331.0 L619.0,334.8 L622.0,338.6 L625.0,342.4 L628.0,346.2 L631.0,350.0 L634.0,353.7 L637.0,357.5 L640.0,361.2 L643.0,364.9 L646.0,368.6 L649.0,372.2 L652.0,375.9 L655.0,379.5 L658.0,383.2 L661.0,386.8 L664.0,390.4 L667.0,394.0 L670.0,397.6 L673.0,401.1 L676.0,404.7 L679.0,408.2 L682.0,411.7 L685.0,415.3 L688.0,418.8 L691.0,422.3 L694.0,425.7 L697.0,429.2 L700.0,432.7 L703.0,436.1 L706.0,439.6 L709.0,443.0 L712.0,446.4 L715.0,449.8 L718.0,453.2 L721.0,456.6 L724.0,460.0 L727.0,463.4 L730.0,466.8 L733.0,470.1 L736.0,473.5 L739.0,476.8 L742.0,480.2 L745.0,483.5 L748.0,486.8 L751.0,490.1 L754.0,493.5 L757.0,496.8 L760.0,500.1 L763.0,503.4 L766.0,506.6 L769.0,509.9 L772.0,513.2 L775.0,516.5 L778.0,519.7 L781.0,523.0 L784.0,526.3 L787.0,529.5 L790.0,532.7 L793.0,536.0 L796.0,539.2 L799.0,542.4 L802.0,545.7 L805.0,548.9 L808.0,552.1 L811.0,555.3 L814.0,558.5 L817.0,561.7 L820.0,564.9 L823.0,568.1 L826.0,571.3 L829.0,574.5 L832.0,577.6 L835.0,580.8 L838.0,584.0 L841.0,587.2 L844.0,590.3 L847.0,593.5 L850.0,596.6 L853.0,599.8 L856.0,602.9 L859.0,606.1 L862.0,609.2 L865.0,612.4 L868.0,615.5 L871.0,618.7 L874.0,621.8 L877.0,624.9 L880.0,628.1 L883.0,631.2 L886.0,634.3 L889.0,637.4 L892.0,640.6 L895.0,643.7 L898.0,646.8 L901.0,649.9 L904.0,653.0 L907.0,656.2 L910.0,659.3 L913.0,662.4 L916.0,665.5 L919.0,668.6 L922.0,671.7 L925.0,674.8 L928.0,678.0 L931.0,681.1 L933.7,683.9" fill="none" stroke="#0000ff" stroke-width="2.0" stroke-linejoin="round"/>
<path d="M190.0,223.8 L193.0,224.5 L196.0,225.3 L199.0,226.0 L202.0,226.8 L205.0,227.5 L208.0,228.3 L211.0,229.0 L214.0,229.7 L217.0,230.5 L220.0,231.3 L223.0,232.0 L226.0,232.8 L229.0,233.6 L232.0,234.4 L235.0,235.2 L238.0,236.0 L241.0,236.8 L244.0,237.6 L247.0,238.5 L250.0,239.3 L253.0,240.2 L256.0,241.1 L259.0,242.0 L262.0,243.0 L265.0,243.9 L268.0,244.9 L271.0,245.9 L274.0,246.9 L277.0,248.0 L280.0,249.1 L283.0,250.2 L286.0,251.3 L289.0,252.4 L292.0,253.6 L295.0,254.8 L298.0,256.1 L301.0,257.4 L304.0,258.7 L307.0,260.0 L310.0,261.4 L313.0,262.8 L316.0,264.3 L319.0,265.8 L322.0,267.3 L325.0,268.8 L328.0,270.4 L331.0,272.1 L334.0,273.8 L337.0,275.5 L340.0,277.2 L343.0,279.0 L346.0,280.9 L349.0,282.7 L352.0,284.7 L355.0,286.6 L358.0,288.6 L361.0,290.7 L364.0,292.7 L367.0,294.8 L370.0,296.8 L373.0,298.9 L376.0,300.9 L379.0,302.9 L382.0,304.8 L385.0,306.8 L388.0,308.7 L391.0,310.6 L394.0,312.6 L397.0,314.5 L400.0,316.3 L403.0,318.2 L406.0,320.1 L409.0,321.9 L412.0,323.8 L415.0,325.6 L418.0,327.5 L421.0,329.3 L424.0,331.1 L427.0,333.0 L430.0,334.8 L433.0,336.6 L436.0,338.5 L439.0,340.3 L442.0,342.2 L445.0,344.0 L448.0,345.9 L451.0,347.8 L454.0,349.6 L457.0,351.5 L460.0,353.4 L463.0,355.4 L466.0,357.3 L469.0,359.2 L472.0,361.2 L475.0,363.2 L478.0,365.2 L481.0,367.2 L484.0,369.2 L487.0,371.3 L490.0,373.4 L493.0,375.5 L496.0,377.7 L499.0,379.8 L502.0,382.0 L505.0,384.3 L508.0,386.5 L511.0,388.8 L514.0,391.1 L517.0,393.5 L520.0,395.9 L523.0,398.3 L526.0,400.8 L529.0,403.3 L532.0,405.8 L535.0,408.4 L538.0,411.1 L541.0,413.8 L544.0,416.5 L547.0,419.2 L550.0,422.1 L553.0,424.9 L556.0,427.9 L559.0,430.9 L562.0,433.9 L565.0,437.0 L568.0,440.2 L571.0,443.4 L574.0,446.7 L577.0,450.0 L580.0,453.5 L583.0,457.0 L586.0,460.5 L589.0,464.2 L592.0,467.9 L595.0,471.7 L598.0,475.6 L601.0,479.5 L604.0,483.6 L607.0,487.6 L610.0,491.7 L613.0,495.8 L616.0,499.9 L619.0,504.0 L622.0,508.1 L625.0,512.1 L628.0,516.1 L631.0,520.1 L634.0,524.0 L637.0,527.8 L640.0,531.6 L643.0,535.4 L646.0,539.1 L649.0,542.8 L652.0,546.5 L655.0,550.2 L658.0,553.8 L661.0,557.4 L664.0,561.0 L667.0,564.6 L670.0,568.1 L673.0,571.7 L676.0,575.2 L679.0,578.7 L682.0,582.2 L685.0,585.6 L688.0,589.1 L691.0,592.5 L694.0,595.9 L697.0,599.4 L700.0,602.8 L703.0,606.2 L706.0,609.5 L709.0,612.9 L712.0,616.3 L715.0,619.7 L718.0,623.0 L721.0,626.4 L724.0,629.7 L727.0,633.1 L730.0,636.4 L733.0,639.8 L736.0,643.1 L739.0,646.5 L742.0,649.8 L745.0,653.2 L748.0,656.5 L751.0,659.9 L754.0,663.2 L757.0,666.5 L760.0,669.9 L763.0,673.2 L766.0,676.5 L769.0,679.9 L772.0,683.2 L775.0,686.5 L778.0,689.9 L781.0,693.2 L784.0,696.5 L787.0,699.8 L790.0,703.1 L793.0,706.4 L796.0,709.7 L799.0,713.0 L802.0,716.3 L805.0,719.6 L808.0,722.8 L811.0,726.1 L814.0,729.4 L817.0,732.6 L820.0,735.9 L823.0,739.1 L826.0,742.4 L829.0,745.6 L832.0,748.8 L835.0,752.0 L838.0,755.2 L841.0,758.4 L844.0,761.6 L847.0,764.8 L850.0,768.0 L853.0,771.1 L856.0,774.3 L859.0,777.4 L862.0,780.6 L865.0,783.7 L868.0,786.8 L871.0,789.9 L874.0,793.0 L877.0,796.1 L880.0,799.1 L883.0,802.2 L886.0,805.2 L889.0,808.3 L892.0,811.3 L895.0,814.3 L898.0,817.3 L901.0,820.3 L904.0,823.3 L907.0,826.2 L910.0,829.2 L913.0,832.1 L916.0,835.0 L919.0,837.9 L922.0,840.8 L925.0,843.7 L928.0,846.5 L931.0,849.4 L933.7,851.9" fill="none" stroke="#ff0000" stroke-width="2.0" stroke-linejoin="round"/>
<g fill="#000000" stroke="#000000" stroke-width="1.6">
<path d="M557.3,117.3 L565.8,125.8 L557.3,134.3 L548.8,125.8 Z" stroke="none"/>
<path d="M615.6,97.9 L624.1,106.4 L615.6,114.9 L607.1,106.4 Z" stroke="none"/>
<path d="M652.3,98.5 L660.8,107.0 L652.3,115.5 L643.8,107.0 Z" stroke="none"/>
<path d="M662.9,104.4 L671.4,112.9 L662.9,121.4 L654.4,112.9 Z" stroke="none"/>
<path d="M658.8,111.7 L667.3,120.2 L658.8,128.7 L650.3,120.2 Z" stroke="none"/>
<path d="M689.8,110.4 L698.3,118.9 L689.8,127.4 L681.3,118.9 Z" stroke="none"/>
<path d="M709.0,137.5 V140.5 M701.5,137.5 H716.5 M701.5,140.5 H716.5" fill="none"/>
<path d="M709.0,130.5 L717.5,139.0 L709.0,147.5 L700.5,139.0 Z" stroke="none"/>
<path d="M729.3,157.7 V166.1 M721.8,157.7 H736.8 M721.8,166.1 H736.8" fill="none"/>
<path d="M729.3,153.4 L737.8,161.9 L729.3,170.4 L720.8,161.9 Z" stroke="none"/>
<path d="M763.2,164.7 V170.7 M755.7,164.7 H770.7 M755.7,170.7 H770.7" fill="none"/>
<path d="M763.2,159.2 L771.7,167.7 L763.2,176.2 L754.7,167.7 Z" stroke="none"/>
<path d="M770.4,169.3 V184.8 M762.9,169.3 H777.9 M762.9,184.8 H777.9" fill="none"/>
<path d="M770.4,166.6 L778.9,175.1 L770.4,183.6 L761.9,175.1 Z" stroke="none"/>
</g>
<g fill="#a52a2a" stroke="#a52a2a" stroke-width="1.6">
<path d="M557.3,121.1 L565.8,129.6 L557.3,138.1 L548.8,129.6 Z" stroke="none"/>
<path d="M615.6,108.9 L624.1,117.4 L615.6,125.9 L607.1,117.4 Z" stroke="none"/>
<path d="M652.3,108.5 L660.8,117.0 L652.3,125.5 L643.8,117.0 Z" stroke="none"/>
<path d="M658.2,126.7 L666.7,135.2 L658.2,143.7 L649.7,135.2 Z" stroke="none"/>
<path d="M662.0,123.6 L670.5,132.1 L662.0,140.6 L653.5,132.1 Z" stroke="none"/>
<path d="M689.8,132.0 L698.3,140.5 L689.8,149.0 L681.3,140.5 Z" stroke="none"/>
<path d="M709.0,159.6 V162.6 M701.5,159.6 H716.5 M701.5,162.6 H716.5" fill="none"/>
<path d="M709.0,152.6 L717.5,161.1 L709.0,169.6 L700.5,161.1 Z" stroke="none"/>
<path d="M729.3,184.6 V189.6 M721.8,184.6 H736.8 M721.8,189.6 H736.8" fill="none"/>
<path d="M729.3,178.6 L737.8,187.1 L729.3,195.6 L720.8,187.1 Z" stroke="none"/>
<path d="M763.2,197.0 V203.0 M755.7,197.0 H770.7 M755.7,203.0 H770.7" fill="none"/>
<path d="M763.2,191.5 L771.7,200.0 L763.2,208.5 L754.7,200.0 Z" stroke="none"/>
<path d="M770.4,189.8 V204.8 M762.9,189.8 H777.9 M762.9,204.8 H777.9" fill="none"/>
<path d="M770.4,188.8 L778.9,197.3 L770.4,205.8 L761.9,197.3 Z" stroke="none"/>
<path d="M808.3,232.2 V237.2 M800.8,232.2 H815.8 M800.8,237.2 H815.8" fill="none"/>
<path d="M808.3,226.2 L816.8,234.7 L808.3,243.2 L799.8,234.7 Z" stroke="none"/>
</g>
<g fill="#696969" stroke="#696969" stroke-width="1.6">
<path d="M557.3,124.5 L565.8,133.0 L557.3,141.5 L548.8,133.0 Z" stroke="none"/>
<path d="M652.3,144.3 L660.8,152.8 L652.3,161.3 L643.8,152.8 Z" stroke="none"/>
<path d="M657.6,148.1 L666.1,156.6 L657.6,165.1 L649.1,156.6 Z" stroke="none"/>
<path d="M662.9,155.0 L671.4,163.5 L662.9,172.0 L654.4,163.5 Z" stroke="none"/>
<path d="M689.8,162.9 L698.3,171.4 L689.8,179.9 L681.3,171.4 Z" stroke="none"/>
<path d="M709.0,185.8 V189.8 M701.5,185.8 H716.5 M701.5,189.8 H716.5" fill="none"/>
<path d="M709.0,179.3 L717.5,187.8 L709.0,196.3 L700.5,187.8 Z" stroke="none"/>
<path d="M729.3,211.1 V216.1 M721.8,211.1 H736.8 M721.8,216.1 H736.8" fill="none"/>
<path d="M729.3,205.1 L737.8,213.6 L729.3,222.1 L720.8,213.6 Z" stroke="none"/>
</g>
<g fill="#ffa500">
<rect x="469.6" y="136.7" width="16.6" height="16.6"/>
<rect x="549.1" y="149.0" width="16.6" height="16.6"/>
<rect x="607.1" y="168.3" width="16.6" height="16.6"/>
<rect x="681.5" y="199.3" width="16.6" height="16.6"/>
</g>
<g fill="none" stroke="#006400" stroke-width="2.0">
<path d="M521.5,196.8 V200.2 M513.9,196.8 H529.1 M513.9,200.2 H529.1" stroke-width="1.7"/>
<rect x="514.2" y="191.2" width="14.6" height="14.6"/>
<path d="M589.0,238.5 V244.5 M581.4,238.5 H596.6 M581.4,244.5 H596.6" stroke-width="1.7"/>
<rect x="581.7" y="234.2" width="14.6" height="14.6"/>
<path d="M612.8,262.1 V273.3 M605.2,262.1 H620.4 M605.2,273.3 H620.4" stroke-width="1.7"/>
<rect x="605.5" y="260.4" width="14.6" height="14.6"/>
<path d="M638.0,264.1 V280.8 M630.4,264.1 H645.6 M630.4,280.8 H645.6" stroke-width="1.7"/>
<rect x="630.7" y="264.0" width="14.6" height="14.6"/>
<path d="M727.8,394.3 V396.7 M720.2,394.3 H735.4 M720.2,396.7 H735.4" stroke-width="1.7"/>
<rect x="720.5" y="388.2" width="14.6" height="14.6"/>
</g>
<g fill="none" stroke="#9400d3" stroke-width="2.0">
<path d="M439.9,174.3 V179.9 M432.3,174.3 H447.5 M432.3,179.9 H447.5" stroke-width="1.7"/>
<rect x="432.6" y="169.8" width="14.6" height="14.6"/>
<path d="M456.0,187.3 V193.7 M448.4,187.3 H463.6 M448.4,193.7 H463.6" stroke-width="1.7"/>
<rect x="448.7" y="183.2" width="14.6" height="14.6"/>
<path d="M461.5,188.3 V196.3 M453.9,188.3 H469.1 M453.9,196.3 H469.1" stroke-width="1.7"/>
<rect x="454.2" y="185.0" width="14.6" height="14.6"/>
<path d="M510.0,218.6 V230.2 M502.4,218.6 H517.6 M502.4,230.2 H517.6" stroke-width="1.7"/>
<rect x="502.7" y="217.1" width="14.6" height="14.6"/>
<path d="M518.5,226.3 V232.3 M510.9,226.3 H526.1 M510.9,232.3 H526.1" stroke-width="1.7"/>
<rect x="511.2" y="222.0" width="14.6" height="14.6"/>
<path d="M546.4,234.8 V246.8 M538.8,234.8 H554.0 M538.8,246.8 H554.0" stroke-width="1.7"/>
<rect x="539.1" y="233.5" width="14.6" height="14.6"/>
<path d="M553.5,241.2 V247.2 M545.9,241.2 H561.1 M545.9,247.2 H561.1" stroke-width="1.7"/>
<rect x="546.2" y="236.9" width="14.6" height="14.6"/>
<path d="M574.0,258.8 V268.8 M566.4,258.8 H581.6 M566.4,268.8 H581.6" stroke-width="1.7"/>
<rect x="566.7" y="256.5" width="14.6" height="14.6"/>
<path d="M589.0,259.1 V269.1 M581.4,259.1 H596.6 M581.4,269.1 H596.6" stroke-width="1.7"/>
<rect x="581.7" y="256.8" width="14.6" height="14.6"/>
<path d="M601.1,262.8 V274.4 M593.5,262.8 H608.7 M593.5,274.4 H608.7" stroke-width="1.7"/>
<rect x="593.8" y="261.3" width="14.6" height="14.6"/>
</g>
<g fill="none" stroke="#0000ff" stroke-width="2.0">
<path d="M437.4,211.9 V214.5 M429.8,211.9 H445.0 M429.8,214.5 H445.0" stroke-width="1.7"/>
<rect x="430.1" y="205.9" width="14.6" height="14.6"/>
<path d="M447.0,212.3 V218.3 M439.4,212.3 H454.6 M439.4,218.3 H454.6" stroke-width="1.7"/>
<rect x="439.7" y="208.0" width="14.6" height="14.6"/>
<path d="M446.7,214.7 V218.7 M439.1,214.7 H454.3 M439.1,218.7 H454.3" stroke-width="1.7"/>
<rect x="439.4" y="209.4" width="14.6" height="14.6"/>
<path d="M453.9,215.0 V222.0 M446.3,215.0 H461.5 M446.3,222.0 H461.5" stroke-width="1.7"/>
<rect x="446.6" y="211.2" width="14.6" height="14.6"/>
<path d="M453.3,217.5 V221.9 M445.7,217.5 H460.9 M445.7,221.9 H460.9" stroke-width="1.7"/>
<rect x="446.0" y="212.4" width="14.6" height="14.6"/>
<path d="M455.7,218.2 V224.2 M448.1,218.2 H463.3 M448.1,224.2 H463.3" stroke-width="1.7"/>
<rect x="448.4" y="213.9" width="14.6" height="14.6"/>
<path d="M461.4,221.7 V226.7 M453.8,221.7 H469.0 M453.8,226.7 H469.0" stroke-width="1.7"/>
<rect x="454.1" y="216.9" width="14.6" height="14.6"/>
<path d="M463.0,223.4 V230.4 M455.4,223.4 H470.6 M455.4,230.4 H470.6" stroke-width="1.7"/>
<rect x="455.7" y="219.6" width="14.6" height="14.6"/>
<path d="M509.3,250.4 V255.8 M501.7,250.4 H516.9 M501.7,255.8 H516.9" stroke-width="1.7"/>
<rect x="502.0" y="245.8" width="14.6" height="14.6"/>
<path d="M516.7,251.9 V258.9 M509.1,251.9 H524.3 M509.1,258.9 H524.3" stroke-width="1.7"/>
<rect x="509.4" y="248.1" width="14.6" height="14.6"/>
<path d="M517.8,255.6 V260.0 M510.2,255.6 H525.4 M510.2,260.0 H525.4" stroke-width="1.7"/>
<rect x="510.5" y="250.5" width="14.6" height="14.6"/>
<path d="M546.2,272.6 V277.6 M538.6,272.6 H553.8 M538.6,277.6 H553.8" stroke-width="1.7"/>
<rect x="538.9" y="267.8" width="14.6" height="14.6"/>
<path d="M549.9,273.9 V280.9 M542.3,273.9 H557.5 M542.3,280.9 H557.5" stroke-width="1.7"/>
<rect x="542.6" y="270.1" width="14.6" height="14.6"/>
<path d="M553.7,277.0 V281.4 M546.1,277.0 H561.3 M546.1,281.4 H561.3" stroke-width="1.7"/>
<rect x="546.4" y="271.9" width="14.6" height="14.6"/>
<path d="M574.5,290.6 V298.6 M566.9,290.6 H582.1 M566.9,298.6 H582.1" stroke-width="1.7"/>
<rect x="567.2" y="287.3" width="14.6" height="14.6"/>
<path d="M589.2,301.5 V309.5 M581.6,301.5 H596.8 M581.6,309.5 H596.8" stroke-width="1.7"/>
<rect x="581.9" y="298.2" width="14.6" height="14.6"/>
<path d="M599.3,303.2 V309.2 M591.7,303.2 H606.9 M591.7,309.2 H606.9" stroke-width="1.7"/>
<rect x="592.0" y="298.9" width="14.6" height="14.6"/>
<path d="M601.6,304.0 V313.0 M594.0,304.0 H609.2 M594.0,313.0 H609.2" stroke-width="1.7"/>
<rect x="594.3" y="301.2" width="14.6" height="14.6"/>
<path d="M613.8,303.3 V313.3 M606.2,303.3 H621.4 M606.2,313.3 H621.4" stroke-width="1.7"/>
<rect x="606.5" y="301.0" width="14.6" height="14.6"/>
<path d="M613.1,313.1 V319.1 M605.5,313.1 H620.7 M605.5,319.1 H620.7" stroke-width="1.7"/>
<rect x="605.8" y="308.8" width="14.6" height="14.6"/>
<path d="M638.0,331.3 V335.3 M630.4,331.3 H645.6 M630.4,335.3 H645.6" stroke-width="1.7"/>
<rect x="630.7" y="326.0" width="14.6" height="14.6"/>
<path d="M638.0,331.3 V339.7 M630.4,331.3 H645.6 M630.4,339.7 H645.6" stroke-width="1.7"/>
<rect x="630.7" y="328.2" width="14.6" height="14.6"/>
<path d="M637.9,335.2 V350.0 M630.3,335.2 H645.5 M630.3,350.0 H645.5" stroke-width="1.7"/>
<rect x="630.6" y="332.9" width="14.6" height="14.6"/>
<path d="M727.8,466.8 V477.6 M720.2,466.8 H735.4 M720.2,477.6 H735.4" stroke-width="1.7"/>
<rect x="720.5" y="464.9" width="14.6" height="14.6"/>
</g>
<g fill="#ff0000" stroke="#ff0000" stroke-width="1.8">
<circle cx="280.1" cy="249.2" r="8.0" stroke="none"/>
<circle cx="294.4" cy="266.5" r="8.0" stroke="none"/>
<circle cx="343.4" cy="293.3" r="8.0" stroke="none"/>
<circle cx="374.2" cy="308.6" r="8.0" stroke="none"/>
<circle cx="394.0" cy="317.7" r="8.0" stroke="none"/>
<circle cx="411.4" cy="330.2" r="8.0" stroke="none"/>
<circle cx="424.2" cy="339.5" r="8.0" stroke="none"/>
<circle cx="437.8" cy="339.5" r="8.0" stroke="none"/>
<circle cx="451.3" cy="348.5" r="8.0" stroke="none"/>
<circle cx="468.6" cy="358.3" r="8.0" stroke="none"/>
<circle cx="480.2" cy="368.1" r="8.0" stroke="none"/>
<circle cx="505.3" cy="397.0" r="8.0" stroke="none"/>
<circle cx="511.6" cy="394.6" r="8.0" stroke="none"/>
<circle cx="557.1" cy="432.1" r="8.0" stroke="none"/>
<circle cx="574.1" cy="443.9" r="8.0" stroke="none"/>
<circle cx="590.8" cy="464.1" r="8.0" stroke="none"/>
<path d="M615.9,471.4 V486.8 M608.5,471.4 H623.3 M608.5,486.8 H623.3" fill="none"/>
<circle cx="615.9" cy="478.6" r="8.0" stroke="none"/>
<path d="M633.7,498.9 V517.2 M626.3,498.9 H641.1 M626.3,517.2 H641.1" fill="none"/>
<circle cx="633.7" cy="506.7" r="8.0" stroke="none"/>
<path d="M657.2,527.1 V546.1 M649.8,527.1 H664.6 M649.8,546.1 H664.6" fill="none"/>
<circle cx="657.2" cy="535.3" r="8.0" stroke="none"/>
<path d="M732.2,627.0 V643.4 M724.8,627.0 H739.6 M724.8,643.4 H739.6" fill="none"/>
<circle cx="732.2" cy="634.9" r="8.0" stroke="none"/>
</g>
</g>
<g stroke="#000" fill="none">
<path d="M333.60,876.6 V862.6 M333.60,38.6 V52.6 M487.30,876.6 V862.6 M487.30,38.6 V52.6 M641.00,876.6 V862.6 M641.00,38.6 V52.6 M794.70,876.6 V862.6 M794.70,38.6 V52.6 M189.9,724.24 H203.9 M933.7,724.24 H919.7 M189.9,571.88 H203.9 M933.7,571.88 H919.7 M189.9,419.52 H203.9 M933.7,419.52 H919.7 M189.9,267.16 H203.9 M933.7,267.16 H919.7 M189.9,114.80 H203.9 M933.7,114.80 H919.7" stroke-width="2.1"/>
<path d="M226.17,876.6 V869.6 M226.17,38.6 V45.6 M253.23,876.6 V869.6 M253.23,38.6 V45.6 M272.44,876.6 V869.6 M272.44,38.6 V45.6 M287.33,876.6 V869.6 M287.33,38.6 V45.6 M299.50,876.6 V869.6 M299.50,38.6 V45.6 M309.79,876.6 V869.6 M309.79,38.6 V45.6 M318.70,876.6 V869.6 M318.70,38.6 V45.6 M326.57,876.6 V869.6 M326.57,38.6 V45.6 M379.87,876.6 V869.6 M379.87,38.6 V45.6 M406.93,876.6 V869.6 M406.93,38.6 V45.6 M426.14,876.6 V869.6 M426.14,38.6 V45.6 M441.03,876.6 V869.6 M441.03,38.6 V45.6 M453.20,876.6 V869.6 M453.20,38.6 V45.6 M463.49,876.6 V869.6 M463.49,38.6 V45.6 M472.40,876.6 V869.6 M472.40,38.6 V45.6 M480.27,876.6 V869.6 M480.27,38.6 V45.6 M533.57,876.6 V869.6 M533.57,38.6 V45.6 M560.63,876.6 V869.6 M560.63,38.6 V45.6 M579.84,876.6 V869.6 M579.84,38.6 V45.6 M594.73,876.6 V869.6 M594.73,38.6 V45.6 M606.90,876.6 V869.6 M606.90,38.6 V45.6 M617.19,876.6 V869.6 M617.19,38.6 V45.6 M626.10,876.6 V869.6 M626.10,38.6 V45.6 M633.97,876.6 V869.6 M633.97,38.6 V45.6 M687.27,876.6 V869.6 M687.27,38.6 V45.6 M714.33,876.6 V869.6 M714.33,38.6 V45.6 M733.54,876.6 V869.6 M733.54,38.6 V45.6 M748.43,876.6 V869.6 M748.43,38.6 V45.6 M760.60,876.6 V869.6 M760.60,38.6 V45.6 M770.89,876.6 V869.6 M770.89,38.6 V45.6 M779.80,876.6 V869.6 M779.80,38.6 V45.6 M787.67,876.6 V869.6 M787.67,38.6 V45.6 M840.97,876.6 V869.6 M840.97,38.6 V45.6 M868.03,876.6 V869.6 M868.03,38.6 V45.6 M887.24,876.6 V869.6 M887.24,38.6 V45.6 M902.13,876.6 V869.6 M902.13,38.6 V45.6 M914.30,876.6 V869.6 M914.30,38.6 V45.6 M924.59,876.6 V869.6 M924.59,38.6 V45.6 M189.9,794.39 H196.9 M933.7,794.39 H926.7 M189.9,772.86 H196.9 M933.7,772.86 H926.7 M189.9,759.93 H196.9 M933.7,759.93 H926.7 M189.9,750.66 H196.9 M933.7,750.66 H926.7 M189.9,743.42 H196.9 M933.7,743.42 H926.7 M189.9,737.49 H196.9 M933.7,737.49 H926.7 M189.9,732.46 H196.9 M933.7,732.46 H926.7 M189.9,728.10 H196.9 M933.7,728.10 H926.7 M189.9,642.03 H196.9 M933.7,642.03 H926.7 M189.9,620.50 H196.9 M933.7,620.50 H926.7 M189.9,607.57 H196.9 M933.7,607.57 H926.7 M189.9,598.30 H196.9 M933.7,598.30 H926.7 M189.9,591.06 H196.9 M933.7,591.06 H926.7 M189.9,585.13 H196.9 M933.7,585.13 H926.7 M189.9,580.10 H196.9 M933.7,580.10 H926.7 M189.9,575.74 H196.9 M933.7,575.74 H926.7 M189.9,489.67 H196.9 M933.7,489.67 H926.7 M189.9,468.14 H196.9 M933.7,468.14 H926.7 M189.9,455.21 H196.9 M933.7,455.21 H926.7 M189.9,445.94 H196.9 M933.7,445.94 H926.7 M189.9,438.70 H196.9 M933.7,438.70 H926.7 M189.9,432.77 H196.9 M933.7,432.77 H926.7 M189.9,427.74 H196.9 M933.7,427.74 H926.7 M189.9,423.38 H196.9 M933.7,423.38 H926.7 M189.9,337.31 H196.9 M933.7,337.31 H926.7 M189.9,315.78 H196.9 M933.7,315.78 H926.7 M189.9,302.85 H196.9 M933.7,302.85 H926.7 M189.9,293.58 H196.9 M933.7,293.58 H926.7 M189.9,286.34 H196.9 M933.7,286.34 H926.7 M189.9,280.41 H196.9 M933.7,280.41 H926.7 M189.9,275.38 H196.9 M933.7,275.38 H926.7 M189.9,271.02 H196.9 M933.7,271.02 H926.7 M189.9,184.95 H196.9 M933.7,184.95 H926.7 M189.9,163.42 H196.9 M933.7,163.42 H926.7 M189.9,150.49 H196.9 M933.7,150.49 H926.7 M189.9,141.22 H196.9 M933.7,141.22 H926.7 M189.9,133.98 H196.9 M933.7,133.98 H926.7 M189.9,128.05 H196.9 M933.7,128.05 H926.7 M189.9,123.02 H196.9 M933.7,123.02 H926.7 M189.9,118.66 H196.9 M933.7,118.66 H926.7" stroke-width="1.8"/>
<rect x="189.9" y="38.6" width="743.8000000000001" height="838.0" stroke-width="2.2"/>
</g>
<g font-family="Liberation Sans, sans-serif" fill="#000" style="will-change:transform">
<text transform="scale(0.9736,1)" x="117.01 138.02" y="127.1" font-size="33.80">10</text>
<text transform="scale(0.9948,1)" x="155.22" y="115.5" font-size="27.76">0</text>
<text transform="scale(0.9736,1)" x="108.07 129.08" y="279.5" font-size="33.80">10</text>
<text transform="scale(0.9793,1)" x="147.78 157.66" y="267.9" font-size="27.76">-2</text>
<text transform="scale(0.9736,1)" x="108.07 129.08" y="431.8" font-size="33.80">10</text>
<text transform="scale(1.0023,1)" x="144.29 154.22" y="420.2" font-size="27.76">-4</text>
<text transform="scale(0.9736,1)" x="108.07 129.08" y="584.2" font-size="33.80">10</text>
<text transform="scale(1.0254,1)" x="140.93 150.57" y="572.6" font-size="27.76">-6</text>
<text transform="scale(0.9736,1)" x="108.07 129.08" y="736.5" font-size="33.80">10</text>
<text transform="scale(1.0096,1)" x="143.20 153.04" y="724.9" font-size="27.76">-8</text>
<text transform="scale(0.9736,1)" x="91.43 112.44" y="888.9" font-size="33.80">10</text>
<text transform="scale(0.9829,1)" x="130.74 140.79 157.89" y="877.3" font-size="27.76">-10</text>
<text transform="scale(0.9736,1)" x="309.17 330.18" y="925.1" font-size="33.80">10</text>
<text transform="scale(0.9744,1)" x="349.47 359.64" y="913.5" font-size="27.76">-1</text>
<text transform="scale(0.9736,1)" x="471.14 492.15" y="925.1" font-size="33.80">10</text>
<text transform="scale(0.9948,1)" x="501.82" y="913.5" font-size="27.76">0</text>
<text transform="scale(0.9736,1)" x="629.00 650.01" y="925.1" font-size="33.80">10</text>
<text transform="scale(0.9502,1)" x="686.20" y="913.5" font-size="27.76">1</text>
<text transform="scale(0.9736,1)" x="786.86 807.87" y="925.1" font-size="33.80">10</text>
<text transform="scale(0.9589,1)" x="840.91" y="913.5" font-size="27.76">2</text>
</g>
<g font-family="Liberation Sans, sans-serif" fill="#000" style="will-change:transform">
<text transform="scale(0.9687,1)" x="484.31 504.26 514.49 544.93 564.15 575.57 588.01 608.52 629.01 647.34 666.37" y="979.9" font-size="33.38">Time <tspan textLength="9.15" lengthAdjust="spacingAndGlyphs">(</tspan>d<tspan textLength="16.26" lengthAdjust="spacingAndGlyphs">a</tspan>ys<tspan textLength="9.15" lengthAdjust="spacingAndGlyphs">)</tspan></text>
<text transform="translate(48.0,599.2) rotate(-90) scale(0.9594,1)" x="-2.31 16.52 25.84 46.89 65.02 76.12 101.62 122.14 142.19 159.73 168.20 182.21 200.28 211.82 224.02 252.00 266.55 287.09" y="0" font-size="33.38"><tspan textLength="17.19" lengthAdjust="spacingAndGlyphs">F</tspan>lux Densi<tspan textLength="12.19" lengthAdjust="spacingAndGlyphs">t</tspan>y <tspan textLength="9.24" lengthAdjust="spacingAndGlyphs">(</tspan><tspan textLength="31.16" lengthAdjust="spacingAndGlyphs">m</tspan><tspan textLength="13.35" lengthAdjust="spacingAndGlyphs">J</tspan>y<tspan textLength="9.24" lengthAdjust="spacingAndGlyphs">)</tspan></text>
<text transform="scale(1.0115,1)" x="784.45 799.29 819.13 838.41 850.34 870.40 889.25" y="95.7" font-size="33.80">Top-h<tspan textLength="15.77" lengthAdjust="spacingAndGlyphs">a</tspan><tspan textLength="11.71" lengthAdjust="spacingAndGlyphs">t</tspan></text>
<text transform="scale(1.0647,1)" x="745.62 761.77 772.45 795.96 805.49 824.24 833.53" y="126.8" font-size="33.38">ξ <tspan textLength="22.26" lengthAdjust="spacingAndGlyphs">=</tspan> 0.1</text>
<path d="M229.9,585.9 H326 M229.9,578.7 V593.1 M326,578.7 V593.1" stroke="#000000" stroke-width="1.8" fill="none"/>
<path d="M277.9,577.5 L286.29999999999995,585.9 L277.9,594.3 L269.5,585.9 Z" fill="#000000"/>
<text transform="scale(0.9843,1)" x="350.96 370.73 380.47 406.23 430.91 447.77 459.17 477.34 488.57" y="596.8" font-size="33.91">6 GHz x 4</text>
<path d="M229.9,622.7 H326 M229.9,615.5 V629.9 M326,615.5 V629.9" stroke="#a52a2a" stroke-width="1.8" fill="none"/>
<path d="M277.9,614.3 L286.29999999999995,622.7 L277.9,631.1 L269.5,622.7 Z" fill="#a52a2a"/>
<text transform="scale(0.9706,1)" x="355.29 376.43 396.35 406.41 432.52 457.50 474.48 486.16 504.47 515.56" y="633.6" font-size="33.91">10 GHz x 2</text>
<path d="M229.9,659.6 H326 M229.9,652.4 V666.8 M326,652.4 V666.8" stroke="#696969" stroke-width="1.8" fill="none"/>
<path d="M277.9,651.2 L286.29999999999995,659.6 L277.9,668.0 L269.5,659.6 Z" fill="#696969"/>
<text transform="scale(0.9530,1)" x="362.24 383.60 404.16 414.64 441.23 466.60" y="670.5" font-size="33.91">22 GHz</text>
<path d="M229.9,696.4 H326 M229.9,689.2 V703.6 M326,689.2 V703.6" stroke="#ffa500" stroke-width="1.8" fill="none"/>
<rect x="269.7" y="688.2" width="16.4" height="16.4" fill="#ffa500"/>
<text transform="scale(0.9818,1)" x="352.01 372.79 392.66 402.45 428.28 453.02 469.90 480.26 491.24 502.10" y="707.3" font-size="33.91">97 GHz <tspan textLength="10.98" lengthAdjust="spacingAndGlyphs">/</tspan> 2</text>
<path d="M229.9,733.2 H326 M229.9,726.0 V740.4 M326,726.0 V740.4" stroke="#006400" stroke-width="1.8" fill="none"/>
<rect x="270.7" y="726.0" width="14.4" height="14.4" fill="none" stroke="#006400" stroke-width="2.0"/>
<text transform="scale(0.9000,1)" x="380.88" y="744.1" font-size="33.91"><tspan textLength="13.56" lengthAdjust="spacingAndGlyphs">J</tspan></text>
<path d="M229.9,770.0 H326 M229.9,762.8 V777.2 M326,762.8 V777.2" stroke="#9400d3" stroke-width="1.8" fill="none"/>
<rect x="270.7" y="762.8" width="14.4" height="14.4" fill="none" stroke="#9400d3" stroke-width="2.0"/>
<text transform="scale(1.0228,1)" x="337.63 354.16 364.67 374.65 384.70" y="780.9" font-size="33.91">z / 2</text>
<path d="M229.9,806.9 H326 M229.9,799.7 V814.1 M326,799.7 V814.1" stroke="#0000ff" stroke-width="1.8" fill="none"/>
<rect x="270.7" y="799.7" width="14.4" height="14.4" fill="none" stroke="#0000ff" stroke-width="2.0"/>
<text transform="scale(1.0396,1)" x="332.83 340.86 351.12 361.01 371.16" y="817.8" font-size="33.91">i / 4</text>
<path d="M229.9,843.7 H326 M229.9,836.5 V850.9 M326,836.5 V850.9" stroke="#ff0000" stroke-width="1.8" fill="none"/>
<circle cx="277.9" cy="843.7" r="8.0" fill="#ff0000"/>
<text transform="scale(0.9883,1)" x="349.84 369.70 381.15 398.19 417.27" y="854.6" font-size="33.91">5 keV</text>
</g>
</svg>
</body></html>
